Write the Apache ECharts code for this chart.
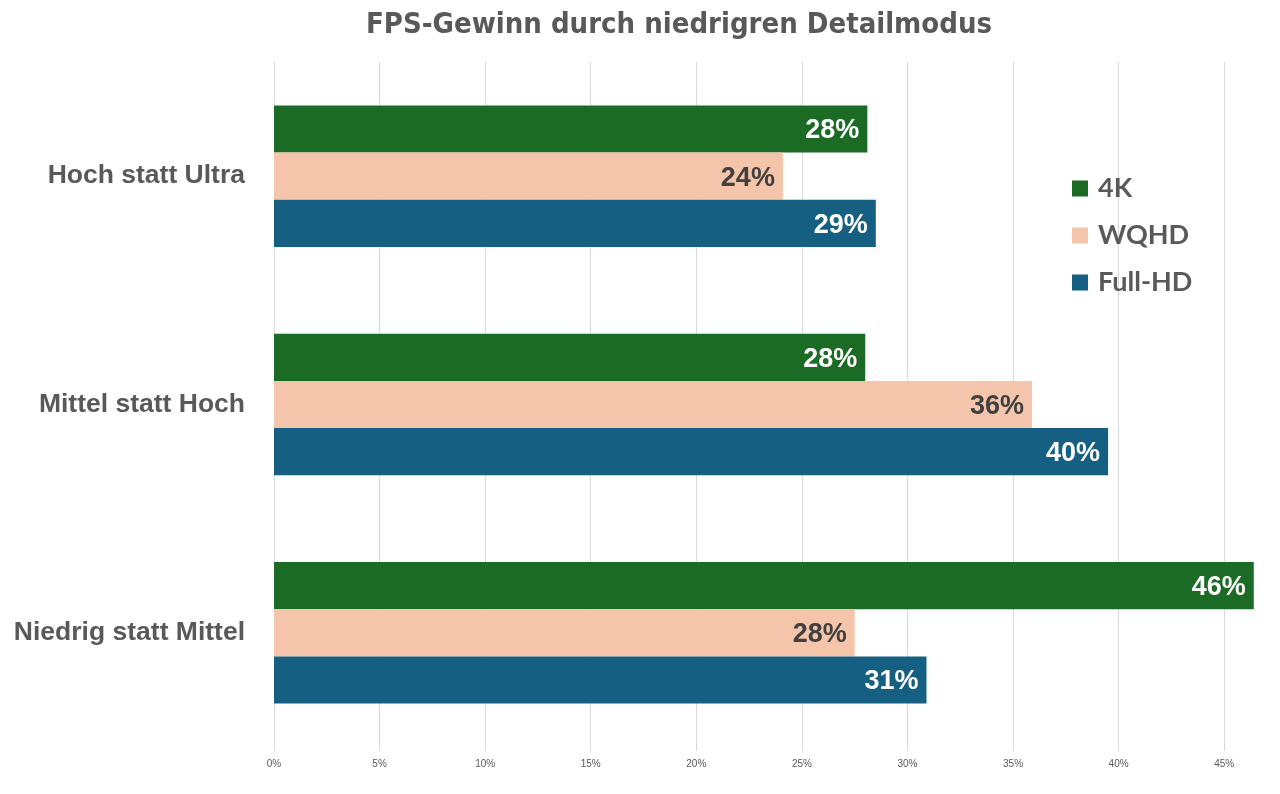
<!DOCTYPE html>
<html>
<head>
<meta charset="utf-8">
<script src="https://cdn.jsdelivr.net/npm/echarts@6/dist/echarts.min.js"></script>
<style>
  html, body { margin: 0; padding: 0; background: #fff; }
  #chart { width: 1280px; height: 794px; }
</style>
</head>
<body>
<div id="chart"></div>
<script>
// Kategorien von oben nach unten
const categories = ["Hoch statt Ultra", "Mittel statt Hoch", "Niedrig statt Mittel"];
const seriesNames = ["4K", "WQHD", "Full-HD"];
// FPS-Gewinn in Prozent
const values4K = [28.1, 28.0, 46.4];
const valuesWQHD = [24.1, 35.9, 27.5];
const valuesFullHD = [28.5, 39.5, 30.9];
const tickStep = 5;

const colors = ["#1b6b25", "#f5c5ab", "#155f82"];
const labelColors = ["#ffffff", "#404040", "#ffffff"];
const allValues = [values4K, valuesWQHD, valuesFullHD];

const chart = echarts.init(document.getElementById("chart"));

const series = seriesNames.map((name, i) => ({
  name: name,
  type: "bar",
  data: allValues[i],
  barGap: "0%",
  barCategoryGap: "38%",
  itemStyle: { color: colors[i] },
  label: {
    show: true,
    position: "insideRight",
    distance: 8,
    offset: [0, 2],
    formatter: (p) => Math.round(p.value) + "%",
    color: labelColors[i],
    fontFamily: "Liberation Sans",
    fontWeight: "bold",
    fontSize: 27,
  },
}));

chart.setOption({
  animation: false,
  backgroundColor: "#ffffff",
  title: {
    text: "FPS-Gewinn durch niedrigren Detailmodus",
    left: 366,
    top: 11,
    padding: 0,
    textStyle: {
      fontFamily: "DejaVu Sans Condensed",
      fontWeight: "bold",
      fontSize: 29,
      color: "#595959",
    },
  },
  legend: {
    orient: "vertical",
    left: 1072,
    top: 175,
    padding: 0,
    itemWidth: 16,
    itemHeight: 16,
    itemGap: 20,
    icon: "rect",
    textStyle: {
      fontFamily: "Lato",
      fontWeight: "bold",
      fontSize: 27,
      color: "#595959",
      padding: [0, 0, 0, 5],
    },
    data: seriesNames,
  },
  grid: { left: 274, right: 3, top: 62, bottom: 47, containLabel: false },
  xAxis: {
    type: "value",
    min: 0,
    max: 47.5,
    interval: tickStep,
    axisLine: { show: false },
    axisTick: { show: true, length: 4, lineStyle: { color: "#d9d9d9" } },
    axisLabel: {
      formatter: (v) => v + "%",
      showMaxLabel: false,
      fontFamily: "Liberation Sans",
      fontSize: 10,
      color: "#595959",
      margin: 12,
    },
    splitLine: { show: true, showMaxLine: false, lineStyle: { color: "#d9d9d9", width: 1 } },
  },
  yAxis: {
    type: "category",
    inverse: true,
    data: categories,
    axisLine: { show: false },
    axisTick: { show: false },
    axisLabel: {
      fontFamily: "Liberation Sans",
      fontWeight: "bold",
      fontSize: 26.5,
      color: "#595959",
      margin: 29,
    },
  },
  series: series,
});
</script>
</body>
</html>
